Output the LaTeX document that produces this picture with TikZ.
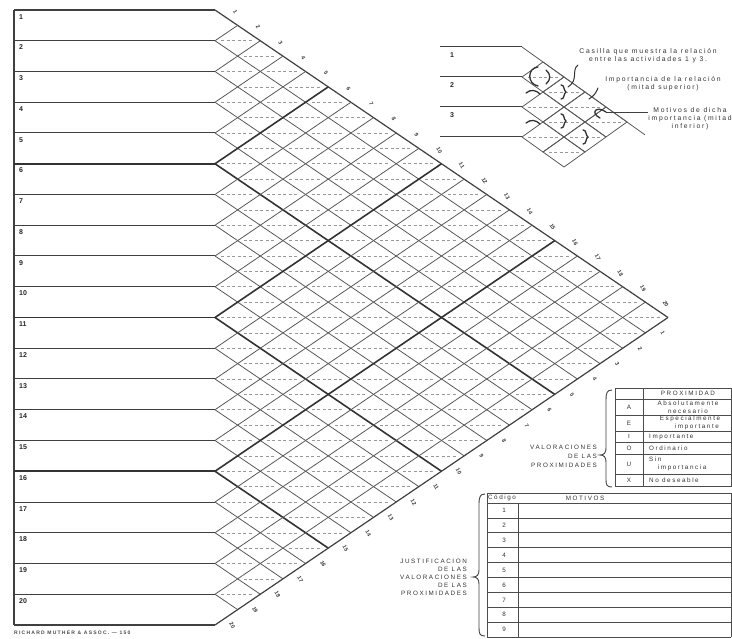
\documentclass[tikz,border=0pt]{standalone}
\usepackage{fontspec}
\setmainfont{Liberation Sans}
\newfontfamily\spaced[LetterSpace=25]{Liberation Sans}
\begin{document}
\begin{tikzpicture}[x=1pt,y=-1pt,
  gl/.style={draw=black!65, line width=0.8pt},
  rowline/.style={draw=black!75, line width=1pt},
  gthick/.style={draw=black!80, line width=1.6pt},
  gborder/.style={draw=black!75, line width=1.2pt},
  mid/.style={draw=black!40, line width=0.5pt, dash pattern=on 3pt off 2.5pt},
  rowlbl/.style={font=\fontsize{7}{8}\selectfont\bfseries, anchor=north west, inner sep=0pt, text=black!85},
  edgelbl/.style={font=\fontsize{5.5}{6}\selectfont\bfseries, rotate=-60, inner sep=0pt, text=black!75},
  small/.style={font=\spaced\fontsize{6.3}{7.6}\selectfont, inner sep=0pt, text=black!80},
  note/.style={font=\spaced\fontsize{6.8}{8}\selectfont, inner sep=0pt, text=black!80},
  tbl/.style={draw=black!70, line width=0.7pt},
  hmark/.style={draw=black!80, line width=1.3pt, line cap=round},
  cbr/.pic={\draw[draw=black!80, line width=1.3pt, line cap=round] (-2,-7) .. controls (2,-7) and (0,-2) .. (3,0) .. controls (0,2) and (2,7) .. (-2,7);}
]
\useasboundingbox (0,0) rectangle (732,639);
\fill[white] (0,0) rectangle (732,639);
\def\xo{215}\def\yo{10}\def\hw{22.65}\def\hh{15.375}

% ---------------- main chart ----------------
\foreach \i in {1,...,19} {
  \pgfmathtruncatemacro\jj{\i+1}
  \foreach \j in {\jj,...,20} {
    \draw[mid] ({\xo+(\j-\i)*\hw-0.72*\hw},{\yo+(\i-1+\j)*\hh}) -- ++({1.44*\hw},0);
  }
}
\draw[gborder] (14,\yo) -- (14,{\yo+40*\hh});
\foreach \k in {0,...,20} {
  \pgfmathtruncatemacro\m{mod(\k,5)}
  \ifnum\m=0
    \ifnum\k=0 \def\st{gborder}\else\ifnum\k=20 \def\st{gborder}\else\def\st{gthick}\fi\fi
  \else \def\st{rowline}\fi
  \draw[\st] (14,{\yo+2*\hh*\k}) -- (\xo,{\yo+2*\hh*\k});
}
\foreach \k in {0,...,19} {
  \pgfmathtruncatemacro\m{mod(\k,5)}
  \ifnum\m=0 \ifnum\k=0 \def\st{gborder}\else\def\st{gthick}\fi\else\def\st{gl}\fi
  \draw[\st] (\xo,{\yo+2*\hh*\k}) -- ++({(20-\k)*\hw},{(20-\k)*\hh});
}
\foreach \k in {1,...,20} {
  \pgfmathtruncatemacro\m{mod(\k,5)}
  \ifnum\m=0 \ifnum\k=20 \def\st{gborder}\else\def\st{gthick}\fi\else\def\st{gl}\fi
  \draw[\st] (\xo,{\yo+2*\hh*\k}) -- ++({\k*\hw},{-\k*\hh});
}
\foreach \k in {1,...,20}
  \node[rowlbl] (r\k) at (19,{\yo+2*\hh*(\k-1)+4}) {\k};
\foreach \k in {1,...,20} {
  \node[edgelbl] (t\k) at ({\xo+(\k-0.5)*\hw+9},{\yo+(\k-0.5)*\hh-6}) {\k};
  \node[edgelbl] (b\k) at ({\xo+(20.5-\k)*\hw+6},{\yo+(19.5+\k)*\hh+8}) {\k};
}

% ---------------- inset example ----------------
\def\xi{522}\def\yi{47}\def\hwi{21}\def\hhi{15}
\foreach \i/\j in {1/2,1/3,1/4,1/5,2/3,2/4,2/5,3/4,3/5} {
  \draw[mid] ({\xi+(\j-\i)*\hwi-0.72*\hwi},{\yi+(\i-1+\j)*\hhi}) -- ++({1.44*\hwi},0);
  \draw[gl] ({\xi+(\j-\i-1)*\hwi},{\yi+(\i-1+\j)*\hhi}) -- ++(\hwi,-\hhi) -- ++(\hwi,\hhi) -- ++(-\hwi,\hhi) -- cycle;
}
\foreach \k in {0,...,3}
  \draw[rowline] (440,{\yi+30*\k}) -- (\xi,{\yi+30*\k});
\draw[gl] (\xi,\yi) -- ++(123,{123*15/21});
\foreach \k in {1,2,3}
  \node[rowlbl] (ir\k) at (450,{\yi+30*(\k-1)+5}) {\k};
\pic at (563,92) {cbr};
\pic at (563,121) {cbr};
\pic at (585,137) {cbr};
\draw[hmark] (538,67) .. controls (527,68) and (527,84) .. (538,86);
\draw[hmark] (546,70) .. controls (551,74) and (551,80) .. (546,84);
\draw[hmark] (526,93) .. controls (531,89) and (536,90) .. (540,94);
\draw[hmark] (526,123) .. controls (531,119) and (536,120) .. (540,124);
\node[note, align=center] (casilla) at (648,56) {Casilla que muestra la relación\\entre las actividades 1 y 3.};
\node[note, align=center] (impo) at (663,84) {Importancia de la relación\\(mitad superior)};
\node[note, align=center] (moti) at (690,119) {Motivos de dicha\\importancia (mitad\\inferior)};
\draw[hmark, line width=1pt] (578,65) .. controls (571,70) and (579,80) .. (568,87);
\draw[hmark, line width=1pt] (598,88) .. controls (596,93) and (594,96) .. (589,99);
\draw[black!75, line width=0.8pt] (648,112) -- (606,112);
\draw[hmark] (606,112) .. controls (596,105) and (590,113) .. (600,118);

% ---------------- legend table ----------------
\draw[tbl] (615,388) rectangle (731,486);
\draw[tbl] (643,388) -- (643,486);
\foreach \y in {399,415,431,442,454,474}
  \draw[tbl] (615,\y) -- (731,\y);
\node[small] (phead) at (688,393.5) {PROXIMIDAD};
\node[small] (lA) at (629,407) {A};
\node[small] (lE) at (629,423) {E};
\node[small] (lI) at (629,436.5) {I};
\node[small] (lO) at (629,448) {O};
\node[small] (lU) at (629,464) {U};
\node[small] (lX) at (629,480) {X};
\node[small, align=center] (tA) at (688,407) {Absolutamente\\necesario};
\node[small, align=center] (tE) at (690,423) {Especialmente\\\hspace*{2.2em}importante};
\node[small, anchor=west] (tI) at (649,436.5) {Importante};
\node[small, anchor=west] (tO) at (649,448) {Ordinario};
\node[small, align=left, anchor=west] (tU) at (649,464) {Sin\\\hspace*{1.4em}importancia};
\node[small, anchor=west] (tX) at (649,480) {No deseable};
\draw[black!75, line width=0.9pt] (612,390) .. controls (607,390) and (606,393) .. (606,400) -- (606,448)
  .. controls (606,453) and (604,455) .. (600,455) .. controls (604,455) and (606,457) .. (606,462) -- (606,480)
  .. controls (606,485) and (607,487) .. (612,487);
\node[small, align=right, anchor=east, font=\spaced\fontsize{6.3}{9}\selectfont] (val) at (597,456) {VALORACIONES\\DE LAS\\PROXIMIDADES};

% ---------------- justification table ----------------
\draw[tbl] (487,493) -- (731,493);
\draw[tbl] (487,503) -- (731,503);
\foreach \k in {1,...,9}
  \draw[tbl] (487,{503+14.9*\k}) -- (731,{503+14.9*\k});
\draw[tbl] (487,493) -- (487,637);
\draw[tbl] (518,503) -- (518,637);
\draw[tbl] (731,493) -- (731,637);
\node[small] (cod) at (502,498) {Código};
\node[small] (mot) at (585,498) {MOTIVOS};
\foreach \k in {1,...,9}
  \node[small] (c\k) at (504,{503+14.9*(\k-0.5)}) {\k};
\draw[black!75, line width=0.9pt] (485,494) .. controls (480,494) and (479,497) .. (479,505) -- (479,570)
  .. controls (479,575) and (477,577) .. (473,577) .. controls (477,577) and (479,579) .. (479,584) -- (479,628)
  .. controls (479,634) and (480,636) .. (485,636);
\node[small, align=right, anchor=east, font=\spaced\fontsize{6.3}{8}\selectfont] (jus) at (467,577) {JUSTIFICACION\\DE LAS\\VALORACIONES\\DE LAS\\PROXIMIDADES};

\node[anchor=west, inner sep=0pt, text=black!70, font=\spaced\fontsize{5}{6}\selectfont\bfseries] (foot) at (14,633) {RICHARD MUTHER \& ASSOC. — 150};
\end{tikzpicture}
\end{document}
